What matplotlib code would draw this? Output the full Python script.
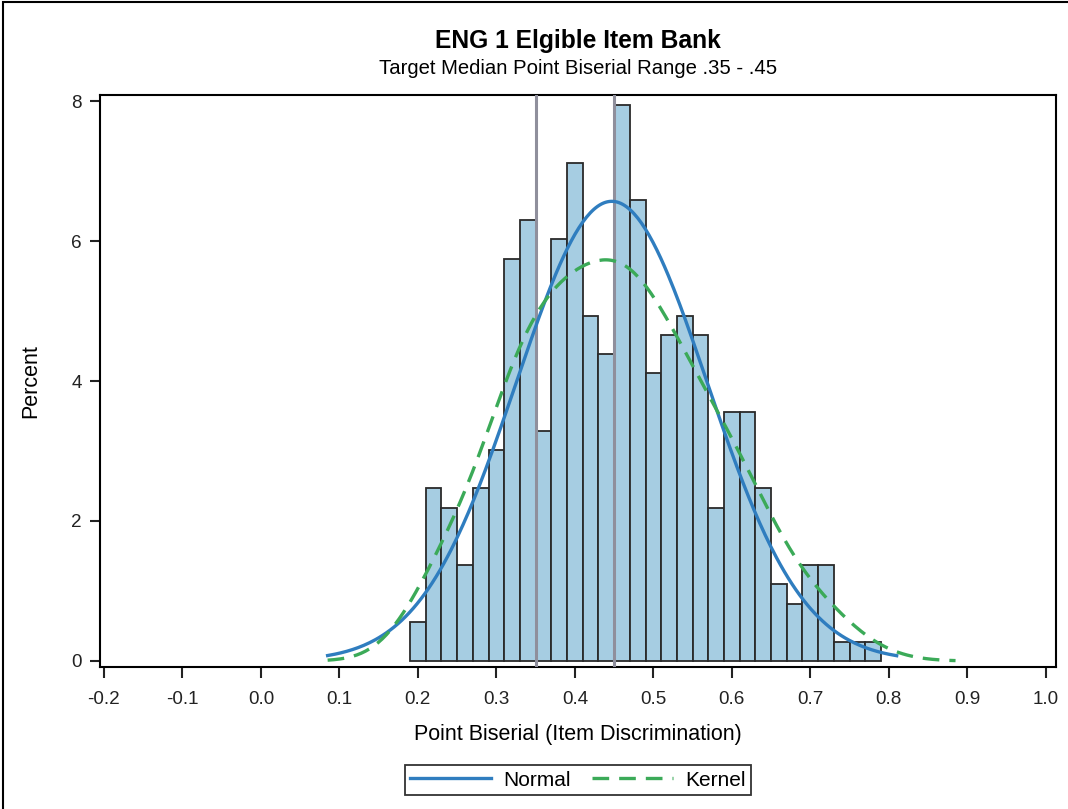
import numpy as np
import matplotlib
matplotlib.use("Agg")
import matplotlib.pyplot as plt
from matplotlib.patches import Rectangle
from matplotlib.lines import Line2D

# ==============================
# data
# ==============================
bin_width = 0.02
bin_start = 0.19
percent = [0.55, 2.47, 2.19, 1.37, 2.47, 3.01, 5.75, 6.30, 3.29, 6.03,
           7.12, 4.93, 4.38, 7.95, 6.58, 4.11, 4.66, 4.93, 4.66, 2.19,
           3.56, 3.56, 2.47, 1.10, 0.82, 1.37, 1.37, 0.27, 0.27, 0.27]
bin_centers = bin_start + bin_width / 2 + bin_width * np.arange(len(percent))

normal_mu, normal_sigma = 0.447, 0.1215
normal_range = (0.085, 0.81)
kernel_bw = 0.046
kernel_range = (0.085, 0.885)
target_lines = [0.35, 0.45]

xticks = np.round(np.arange(-0.2, 1.01, 0.1), 1)
yticks = [0, 2, 4, 6, 8]

title = 'ENG 1 Elgible Item Bank'
subtitle = 'Target Median Point Biserial Range .35 - .45'

bar_color = '#A6CDE2'
edge_color = '#2a2a2a'
normal_color = '#2F7DBF'
kernel_color = '#3BAA58'
ref_color = '#8F8F9C'

plt.rcParams.update({
    "font.family": ["Liberation Sans", "DejaVu Sans"],
    "axes.linewidth": 1.5,
    "xtick.major.width": 1.5,
    "ytick.major.width": 1.5,
})

W, H = 1068, 809
fig = plt.figure(figsize=(W / 100, H / 100), dpi=100)
ax = fig.add_axes([100 / W, (H - 667) / H, (1056 - 100) / W, (667 - 95) / H])

# histogram
ax.bar(bin_centers, percent, width=bin_width, color=bar_color,
       edgecolor=edge_color, linewidth=1.3, zorder=2)

# target reference lines
for xv in target_lines:
    ax.axvline(xv, color=ref_color, linewidth=2.2, zorder=3)

# normal density curve (percent per bin)
xn = np.linspace(*normal_range, 300)
yn = 100 * bin_width * np.exp(-0.5 * ((xn - normal_mu) / normal_sigma) ** 2) / (normal_sigma * np.sqrt(2 * np.pi))
ax.plot(xn, yn, color=normal_color, linewidth=2.4, zorder=4)

# kernel density from the binned data
xk = np.linspace(*kernel_range, 300)
w = np.array(percent)
dens = (w[None, :] * np.exp(-0.5 * ((xk[:, None] - bin_centers[None, :]) / kernel_bw) ** 2)).sum(axis=1)
dens = dens / (w.sum() * kernel_bw * np.sqrt(2 * np.pi))
yk = 100 * bin_width * dens
ax.plot(xk, yk, color=kernel_color, linewidth=2.4, dashes=(5, 3), zorder=4)

ax.set_xlim(-0.205, 1.013)
ax.set_ylim(-0.086, 8.086)
ax.set_xticks(xticks)
ax.set_xticklabels([f'{v:.1f}' for v in xticks])
ax.set_yticks(yticks)
ax.tick_params(axis='x', length=8, pad=9, labelsize=13.6, colors='#222222')
ax.tick_params(axis='y', length=7, pad=6, labelsize=13.6, colors='#222222')
ax.set_xlabel('Point Biserial (Item Discrimination)', fontsize=15.5, labelpad=12)
ax.set_ylabel('Percent', fontsize=15.5, labelpad=22)

fig.text(578 / W, 1 - 41 / H, title, ha='center', va='center',
         fontsize=17.7, fontweight='bold')
fig.text(578 / W, 1 - 69 / H, subtitle, ha='center', va='center', fontsize=14.6)

handles = [Line2D([], [], color=normal_color, linewidth=2.4),
           Line2D([], [], color=kernel_color, linewidth=2.4, dashes=(5, 3))]
leg = fig.legend(handles, ['Normal', 'Kernel'], loc='center',
                 bbox_to_anchor=(578 / W, 1 - 780 / H), ncol=2,
                 fontsize=15, frameon=True, fancybox=False,
                 handlelength=3.9, columnspacing=1.0, handletextpad=0.6,
                 borderpad=0.25, borderaxespad=0)
leg.get_frame().set_edgecolor('black')
leg.get_frame().set_linewidth(1.3)

# outer border of the graph
fig.patches.append(Rectangle((3 / W, -0.1), 2, 1.1 - 2 / H, transform=fig.transFigure,
                             fill=False, edgecolor='black', linewidth=1.5))

fig.savefig('out.png', dpi=100)
